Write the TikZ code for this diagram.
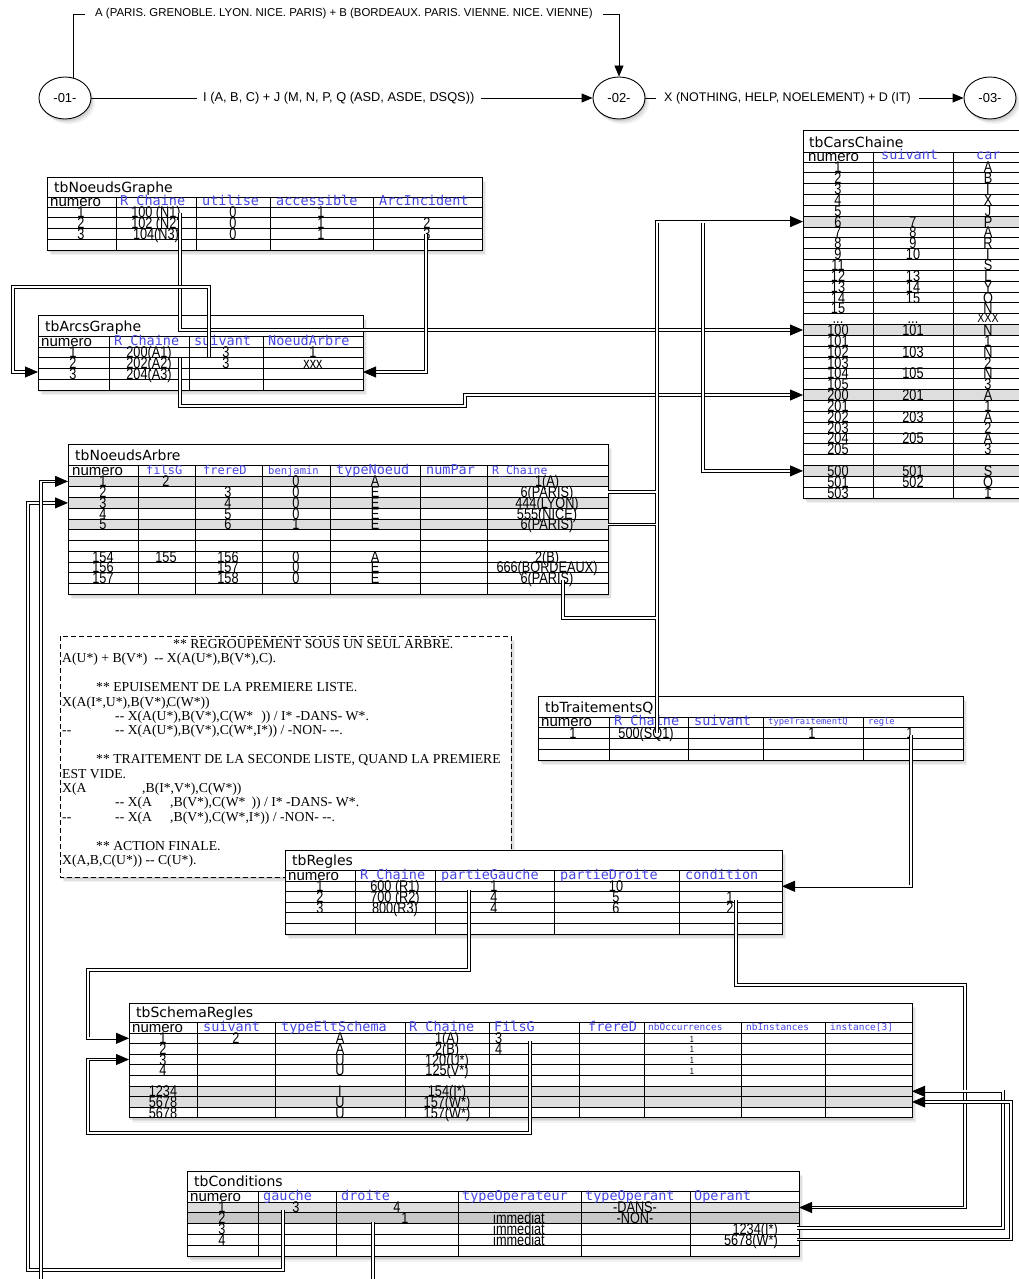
\documentclass[tikz,border=0pt]{standalone}
\usepackage{fontspec}
\usetikzlibrary{arrows.meta,shadows,shapes.geometric}
\newfontfamily\datf[FakeStretch=0.82]{Liberation Sans}
\newfontfamily\labf{Liberation Sans}
\newfontfamily\hdrf{DejaVu Sans Mono}
\newfontfamily\titf{DejaVu Sans}
\newfontfamily\serf{Liberation Serif}
\definecolor{hblue}{RGB}{70,70,225}
\definecolor{rowg}{RGB}{222,222,222}
\definecolor{rowgd}{RGB}{200,200,200}
\newcommand\fsz[1]{\fontsize{#1}{#1}\selectfont}
\tikzset{
 gl/.style={line width=0.9pt},
 tshadow/.style={drop shadow={shadow xshift=4pt,shadow yshift=-5pt,opacity=0.10},
                 drop shadow={shadow xshift=2.5pt,shadow yshift=-3.5pt,opacity=0.15},
                 drop shadow={shadow xshift=1pt,shadow yshift=-2pt,opacity=0.2}},
 dat/.style={font=\datf\fsz{15.5}, anchor=base, inner sep=0pt},
 datl/.style={dat, anchor=base west},
 datr/.style={dat, anchor=base east},
 hdr/.style={font=\hdrf\fsz{13.5}, text=hblue, anchor=base west, inner sep=0pt},
 hnum/.style={font=\labf\fsz{15}, anchor=base west, inner sep=0pt},
 ttl/.style={font=\titf\fsz{14}, anchor=base west, inner sep=0pt},
 nte/.style={font=\serf\fsz{13.7}, anchor=base west, inner sep=0pt},
 con/.style={double=white, line width=0.8pt, double distance=1.8pt},
 arr/.style={-{Triangle[length=13pt,width=11pt]}},
 thn/.style={line width=0.9pt},
 arrs/.style={-{Triangle[length=11pt,width=9pt]}},
 circ/.style={ellipse, draw, line width=0.9pt, fill=white, minimum width=52pt, minimum height=42pt, inner sep=0pt, font=\labf\fsz{13}, tshadow},
 lab/.style={font=\labf\fsz{12.5}, inner ysep=2pt},
}
% table helpers
\newcommand\tbg[4]{\path[fill=white,tshadow] (#1,#2) rectangle (#3,#4);}
\newcommand\tgrid[8]{%
  \pgfmathsetmacro\tbot{#5+#6*#7}%
  \draw[gl] (#1,#4) -- (#3,#4);
  \foreach \k in {0,...,#7}{\draw[gl] (#1,{#5+\k*#6}) -- (#3,{#5+\k*#6});}
  \foreach \cx in {#8}{\draw[gl] (\cx,#4) -- (\cx,\tbot);}
  \draw[gl] (#1,#2) rectangle (#3,\tbot);}
\newcommand\grow[5]{\fill[#5] (#1,{#3}) rectangle (#2,{#3+#4});}
\newcommand\drow[2]{\foreach \cx/\ct in {#2}{\node[dat] at (\cx,{#1+5.5}) {\ct};}}

\begin{document}
\begin{tikzpicture}[x=1pt,y=-1pt]
\useasboundingbox (0,0) rectangle (1018,1279);

% ---------------- top flow ----------------
\node[circ] (c1) at (65,98) {-01-};
\node[circ] (c2) at (619,98) {-02-};
\node[circ] (c3) at (990,98) {-03-};
\node[lab, font=\labf\fsz{11.4}, anchor=west, inner xsep=10pt] (tA) at (85,14) {A (PARIS. GRENOBLE. LYON. NICE. PARIS) + B (BORDEAUX. PARIS. VIENNE. NICE. VIENNE)};
\node[lab, font=\labf\fsz{12.8}, anchor=west, inner xsep=6pt] (tB) at (197,98) {I (A, B, C) + J (M, N, P, Q (ASD, ASDE, DSQS))};
\node[lab, anchor=west, inner xsep=8pt] (tC) at (656,98) {X (NOTHING, HELP, NOELEMENT) + D (IT)};
\draw[thn] (c1.67) |- (tA.west);
\draw[thn,arrs] (tA.east) -| (c2.north);
\draw[thn] (c1.east) -- (tB.west);
\draw[thn,arrs] (tB.east) -- (c2.west);
\draw[thn] (c2.east) -- (tC.west);
\draw[thn,arrs] (tC.east) -- (c3.west);

% ---------------- tbNoeudsGraphe ----------------
\tbg{47}{177}{482}{250}
\tgrid{47}{177}{482}{197}{207}{10.75}{4}{116,196,270,373}
\node[ttl] (ngt) at (54,192) {tbNoeudsGraphe};
\node[hnum] at (50,206) {numero};
\node[hdr] at (120,205) {R\_Chaine};
\node[hdr] at (202,205) {utilise};
\node[hdr] at (276,205) {accessible};
\node[hdr] at (379,205) {ArcIncident};
\drow{212.375}{81/1, 156/{100 (N1)}, 233/0, 321/1}
\drow{223.125}{81/2, 156/{102 (N2)}, 233/0, 321/1, 427/2}
\drow{233.875}{81/3, 156/{104(N3)}, 233/0, 321/1, 427/3}

% ---------------- tbArcsGraphe ----------------
\tbg{38}{315}{363}{390}
\tgrid{38}{315}{363}{336}{347}{10.75}{4}{109,189,263}
\node[ttl] (agt) at (45,331) {tbArcsGraphe};
\node[hnum] at (41,346) {numero};
\node[hdr] at (114,345) {R\_Chaine};
\node[hdr] at (194,345) {suivant};
\node[hdr] at (268,345) {NoeudArbre};
\drow{352.375}{73/1, 149/{200(A1)}, 226/3, 313/1}
\drow{363.125}{73/2, 149/{202(A2)}, 226/3, 313/xxx}
\drow{373.875}{73/3, 149/{204(A3)}}

% ---------------- tbCarsChaine ----------------
\tbg{803}{130}{1024}{498.04}
\grow{803}{1024}{216.2}{10.84}{rowg}
\grow{803}{1024}{324.6}{10.84}{rowg}
\grow{803}{1024}{389.64}{10.84}{rowg}
\grow{803}{1024}{465.52}{10.84}{rowg}
\tgrid{803}{130}{1024}{152}{162}{10.84}{31}{873,953}
\node[ttl] (cct) at (809,147) {tbCarsChaine};
\node[hnum] at (808,161) {numero};
\node[hdr] at (881,160) {suivant};
\node[hdr] at (976,160) {car};
\foreach \i/\a/\b/\c in {1/1/{}/A, 2/2/{}/B, 3/3/{}/I, 4/4/{}/X, 5/5/{}/J, 6/6/7/P, 7/7/8/A, 8/8/9/R, 9/9/10/I, 10/11/{}/S, 11/12/13/L, 12/13/14/Y, 13/14/15/O, 14/15/{}/N, 16/100/101/N, 17/101/{}/1, 18/102/103/N, 19/103/{}/2, 20/104/105/N, 21/105/{}/3, 22/200/201/A, 23/201/{}/1, 24/202/203/A, 25/203/{}/2, 26/204/205/A, 27/205/{}/3, 29/500/501/S, 30/501/502/Q, 31/503/{}/1}{
  \node[dat] at (838,{162+(\i-0.5)*10.84+5.5}) {\a};
  \node[dat] at (913,{162+(\i-0.5)*10.84+5.5}) {\b};
  \node[dat] at (988,{162+(\i-0.5)*10.84+5.5}) {\c};
}
\node[dat] at (838,323.5) {...};
\node[dat] at (913,323.5) {...};
\node[dat, font=\datf\fsz{13}] at (988,322.5) {XXX};

% ---------------- tbNoeudsArbre ----------------
\tbg{68}{444}{608}{594.25}
\grow{68}{608}{476}{10.75}{rowg}
\grow{68}{608}{497.5}{10.75}{rowg}
\grow{68}{608}{519}{10.75}{rowg}
\tgrid{68}{444}{608}{465}{476}{10.75}{11}{138,195,262,330,420,487}
\node[ttl] (nat) at (75,460) {tbNoeudsArbre};
\node[hnum] at (72,475) {numero};
\node[hdr, font=\hdrf\fsz{12}] at (146,474) {filsG};
\node[hdr, font=\hdrf\fsz{12}] at (203,474) {frereD};
\node[hdr, font=\hdrf\fsz{10.5}] at (268,474) {benjamin};
\node[hdr] at (336,474) {typeNoeud};
\node[hdr] at (426,474) {numPar};
\node[hdr, font=\hdrf\fsz{11.5}] at (492,474) {R\_Chaine};
\drow{481.375}{103/1, 166/2, 296/0, 375/A, 547/{1(A)}}
\drow{492.125}{103/2, 228/3, 296/0, 375/E, 547/{6(PARIS)}}
\drow{502.875}{103/3, 228/4, 296/0, 375/E, 547/{444(LYON)}}
\drow{513.625}{103/4, 228/5, 296/0, 375/E, 547/{555(NICE)}}
\drow{524.375}{103/5, 228/6, 296/1, 375/E, 547/{6(PARIS)}}
\drow{556.625}{103/154, 166/155, 228/156, 296/0, 375/A, 547/{2(B)}}
\drow{567.375}{103/156, 228/157, 296/0, 375/E, 547/{666(BORDEAUX)}}
\drow{578.125}{103/157, 228/158, 296/0, 375/E, 547/{6(PARIS)}}

% ---------------- tbTraitementsQ ----------------
\tbg{538}{696}{963}{760}
\tgrid{538}{696}{963}{717}{727}{11}{3}{609,688,763,863}
\node[ttl] (tqt) at (545,712) {tbTraitementsQ};
\node[hnum] at (541,726) {numero};
\node[hdr] at (614,725) {R\_Chaine};
\node[hdr] at (694,725) {suivant};
\node[hdr, font=\hdrf\fsz{8.8}] at (768,724) {typeTraitementQ};
\node[hdr, font=\hdrf\fsz{8.8}] at (868,724) {regle};
\drow{732.5}{573/1, 646/{500(SQ1)}, 812/1, 910/1}

% ---------------- note ----------------
\path[fill=white,tshadow] (60,636) rectangle (511,877);
\draw[line width=0.9pt, dash pattern=on 5pt off 3pt] (60,636) rectangle (511,877);
\node[nte] at (173,648.5) {** REGROUPEMENT SOUS UN SEUL ARBRE.};
\node[nte] at (62,662.9) {A(U*) + B(V*) \ -{}- X(A(U*),B(V*),C).};
\node[nte] at (96,691.7) {** EPUISEMENT DE LA PREMIERE LISTE.};
\node[nte] at (62,706.1) {X(A(I*,U*),B(V*),};
\node[nte] at (167,706.1) {C(W*))};
\node[nte] at (115,720.5) {-{}- X(A(U*),B(V*),C(W*\hspace{8pt})) / I* -DANS- W*.};
\node[nte] at (62,734.9) {-{}-};
\node[nte] at (115,734.9) {-{}- X(A(U*),B(V*),C(W*,I*)) / -NON- -{}-.};
\node[nte] at (96,763.7) {** TRAITEMENT DE LA SECONDE LISTE, QUAND LA PREMIERE};
\node[nte] at (62,778.1) {EST VIDE.};
\node[nte] at (62,792.5) {X(A};
\node[nte] at (142,792.5) {,B(I*,V*),C(W*))};
\node[nte] at (115,806.9) {-{}- X(A};
\node[nte] at (170,806.9) {,B(V*),C(W*\hspace{6pt})) / I* -DANS- W*.};
\node[nte] at (62,821.3) {-{}-};
\node[nte] at (115,821.3) {-{}- X(A};
\node[nte] at (170,821.3) {,B(V*),C(W*,I*)) / -NON- -{}-.};
\node[nte] at (96,850.1) {** ACTION FINALE.};
\node[nte] at (62,864.5) {X(A,B,C(U*)) -{}- C(U*).};

% ---------------- tbRegles ----------------
\tbg{285}{850}{782}{934}
\tgrid{285}{850}{782}{870}{881}{10.6}{5}{355,435,554,679}
\node[ttl] (rgt) at (292,865) {tbRegles};
\node[hnum] at (288,880) {numero};
\node[hdr] at (360,879) {R\_Chaine};
\node[hdr] at (441,879) {partieGauche};
\node[hdr] at (560,879) {partieDroite};
\node[hdr] at (685,879) {condition};
\drow{886.3}{320/1, 395/{600 (R1)}, 494/1, 616/10}
\drow{896.9}{320/2, 395/{700 (R2)}, 494/4, 616/5, 730/1}
\drow{907.5}{320/3, 395/{800(R3)}, 494/4, 616/6, 730/2}

% ---------------- tbSchemaRegles ----------------
\tbg{129}{1003}{912}{1117.8}
\grow{129}{912}{1086}{10.6}{rowg}
\grow{129}{912}{1096.6}{10.6}{rowg}
\tgrid{129}{1003}{912}{1022}{1033}{10.6}{8}{197,275,405,489,579,644,741,825}
\node[ttl] (srt) at (136,1017) {tbSchemaRegles};
\node[hnum] at (132,1032) {numero};
\node[hdr] at (203,1031) {suivant};
\node[hdr] at (281,1031) {typeEltSchema};
\node[hdr] at (409,1031) {R\_Chaine};
\node[hdr] at (494,1031) {FilsG};
\node[hdr] at (588,1031) {frereD};
\node[hdr, font=\hdrf\fsz{9.5}] at (648,1030) {nbOccurrences};
\node[hdr, font=\hdrf\fsz{9.5}] at (746,1030) {nbInstances};
\node[hdr, font=\hdrf\fsz{9.5}] at (830,1030) {instance[3]};
\drow{1038.3}{163/1, 236/2, 340/A, 447/{1(A)}}
\drow{1048.9}{163/2, 340/A, 447/{2(B)}}
\drow{1059.5}{163/3, 340/U, 447/{120(U*)}}
\drow{1070.1}{163/4, 340/U, 447/{125(V*)}}
\drow{1091.3}{163/1234, 340/I, 447/{154(I*)}}
\drow{1101.9}{163/5678, 340/U, 447/{157(W*)}}
\drow{1112.5}{163/5678, 340/U, 447/{157(W*)}}
\node[datl] at (495,1043.8) {3};
\node[datl] at (495,1054.4) {4};
\foreach \yy in {1043.3,1053.9,1064.5,1075.1}{\node[dat, font=\datf\fsz{9}] at (692,\yy-1) {1};}

% ---------------- tbConditions ----------------
\tbg{187}{1171}{799}{1256.5}
\grow{187}{799}{1202}{10.9}{rowg}
\grow{187}{799}{1212.9}{10.9}{rowgd}
\tgrid{187}{1171}{799}{1191}{1202}{10.9}{5}{258,336,458,581,690}
\node[ttl] (cdt) at (194,1186) {tbConditions};
\node[hnum] at (190,1201) {numero};
\node[hdr] at (263,1200) {gauche};
\node[hdr] at (341,1200) {droite};
\node[hdr] at (462,1200) {typeOperateur};
\node[hdr] at (585,1200) {typeOperant};
\node[hdr] at (694,1200) {Operant};
\drow{1207.45}{222/1, 296/3, 397/4, 635/{-DANS-}}
\drow{1218.35}{222/2, 405/1, 519/immediat, 635/{-NON-}}
\drow{1229.25}{222/3, 519/immediat}
\drow{1240.15}{222/4, 519/immediat}
\node[datr] at (778,1234.75) {1234(I*)};
\node[datr] at (778,1245.65) {5678(W*)};

% ---------------- connector end points ----------------
\coordinate (ng-rc) at (180,213);
\coordinate (ng-ai) at (426,234);
\coordinate (ag-sv) at (209,357);
\coordinate (ag-rc) at (180,358);
\coordinate (ag-w3) at (38,372);
\coordinate (ag-e3) at (363,372);
\coordinate (cc-6) at (803,221.6);
\coordinate (cc-100) at (803,330);
\coordinate (cc-200) at (803,395);
\coordinate (cc-500) at (803,470.9);
\coordinate (na-r2) at (608,492.1);
\coordinate (na-r5) at (608,524.4);
\coordinate (na-r157) at (563,580);
\coordinate (na-w1) at (68,481.4);
\coordinate (na-w3) at (68,502.9);
\coordinate (tq-rc) at (657,733);
\coordinate (tq-rg) at (911,735);
\coordinate (rg-e1) at (782,886.3);
\coordinate (rg-pg) at (469,890);
\coordinate (rg-cd) at (736,900);
\coordinate (sr-w1) at (129,1038.3);
\coordinate (sr-w3) at (129,1059.5);
\coordinate (sr-fg) at (530,1041);
\coordinate (sr-e6) at (912,1091.3);
\coordinate (sr-e7) at (912,1101.9);
\coordinate (cd-e1) at (799,1207.5);
\coordinate (cd-g) at (283,1210);
\coordinate (cd-d) at (373,1222);
\coordinate (cd-o3) at (797,1228);
\coordinate (cd-o4) at (797,1239.5);

% ---------------- connectors ----------------
\draw[con,arr] (ng-rc) |- (cc-100);
\draw[con,arr] (ng-ai) |- (ag-e3);
\draw[con,arr] (ag-sv) -- (209,287) -| (13,372) -- (ag-w3);
\draw[con,arr] (ag-rc) -- (180,406) -| (465,395) -- (cc-200);
% merged trunk: 6(PARIS) rows and 500(SQ1)
\draw[con] (tq-rc) -- (657,221.6) -- (796,221.6)
           (703,221.6) -- (703,470.9) -- (796,470.9)
           (na-r2) -| (657,480)
           (na-r5) -| (657,505)
           (na-r157) |- (657,618);
\draw[con,arr] (786,221.6) -- (cc-6);
\draw[con,arr] (786,470.9) -- (cc-500);
\draw[con,arr] (tq-rg) |- (rg-e1);
\draw[con,arr] (rg-pg) -- (469,970) -| (88,1038.3) -- (sr-w1);
\draw[con,arr] (rg-cd) -- (736,985) -| (965,1207.5) -- (cd-e1);
\draw[con,arr] (sr-fg) -- (530,1133) -| (88,1059.5) -- (sr-w3);
\draw[con,arr] (cd-o3) -| (1003,1091.3) -- (sr-e6);
\draw[con,arr] (cd-o4) -| (1011,1101.9) -- (sr-e7);
\draw[con,arr] (cd-g) -- (283,1270) -| (28,502.9) -- (na-w3);
\draw[con,arr] (cd-d) -- (373,1292) -| (41,481.4) -- (na-w1);
\end{tikzpicture}
\end{document}
